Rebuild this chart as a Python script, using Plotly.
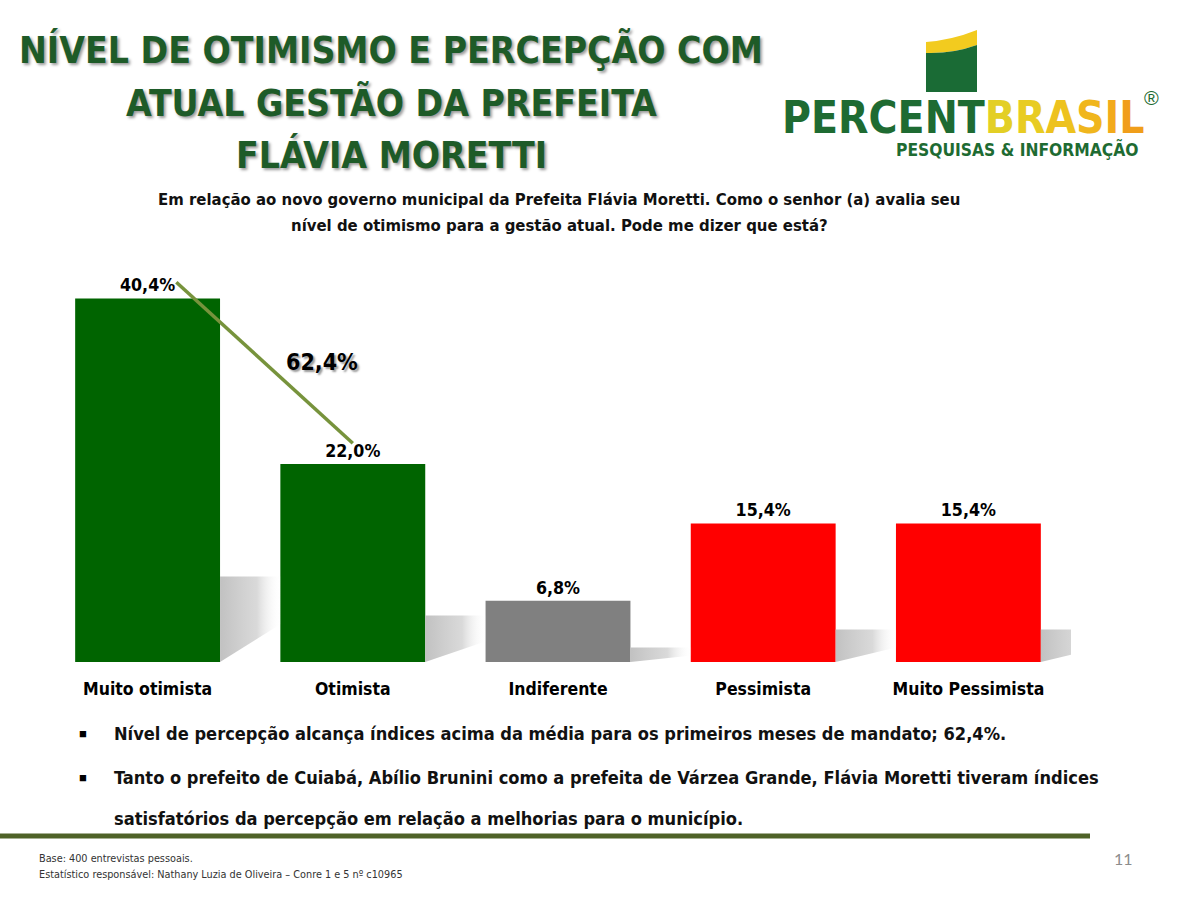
import plotly.graph_objects as go

# ---------------- data ----------------
categories = ["Muito otimista", "Otimista", "Indiferente", "Pessimista", "Muito Pessimista"]
values = [40.4, 22.0, 6.8, 15.4, 15.4]
bar_colors = ["#006400", "#006400", "#808080", "#FF0000", "#FF0000"]
positive_idx = [0, 1]

title_lines = ["NÍVEL DE OTIMISMO E PERCEPÇÃO COM", "ATUAL GESTÃO DA PREFEITA", "FLÁVIA MORETTI"]
question_lines = [
    "Em relação ao novo governo municipal da Prefeita Flávia Moretti. Como o senhor (a) avalia seu",
    "nível de otimismo para a gestão atual. Pode me dizer que está?",
]
bullet_lines = [
    "Nível de percepção alcança índices acima da média para os primeiros meses de mandato; 62,4%.",
    "Tanto o prefeito de Cuiabá, Abílio Brunini como a prefeita de Várzea Grande, Flávia Moretti tiveram índices",
    "satisfatórios da percepção em relação a melhorias para o município.",
]
footer_lines = [
    "Base: 400 entrevistas pessoais.",
    "Estatístico responsável: Nathany Luzia de Oliveira – Conre 1 e 5 nº c10965",
]
page_number = "11"

NARROW = "DejaVu Sans Condensed, Liberation Sans, sans-serif"
SANS = "Liberation Sans, Arial, sans-serif"
TITLE_GREEN = "#1E5B28"
LOGO_GREEN = "#1E6B32"

# ---------------- geometry helpers (pixel -> paper) ----------------
W, H = 1200, 900
ML, MR, MT, MB = 45, 129, 257, 238
PW, PH = W - ML - MR, H - MT - MB


def fx(px):
    return (px - ML) / PW


def fy(py):
    return (H - MB - py) / PH


def fmt(v):
    return f"{v:.1f}%".replace(".", ",")


xs = list(range(len(categories)))
BAR_W = 0.706

fig = go.Figure()

# shadows (drawn first, under the bars)
for i, v in zip(xs, values):
    xr = i + BAR_W / 2
    s = 0.235 * v
    dx = 0.30
    fig.add_trace(go.Scatter(
        x=[xr, xr, xr + dx, xr + dx, xr],
        y=[0, s, s, 0.45 * s, 0],
        mode="lines", line=dict(width=0), fill="toself",
        fillgradient=dict(type="horizontal",
                          colorscale=[[0, "rgba(190,190,190,0.95)"],
                                      [0.6, "rgba(208,208,208,0.8)"],
                                      [1, "rgba(255,255,255,0)"]]),
        hoverinfo="skip", showlegend=False,
    ))

fig.add_trace(go.Bar(
    x=xs, y=values, width=BAR_W,
    marker=dict(color=bar_colors, line=dict(width=0)),
    text=[fmt(v) for v in values], textposition="outside",
    textfont=dict(family=NARROW, size=17.7, color="black", weight="bold"),
    cliponaxis=False, showlegend=False,
))

# sum line for positive categories
total_pos = sum(values[i] for i in positive_idx)
fig.add_shape(type="line", xref="x", yref="y",
              x0=positive_idx[0] + 0.14, y0=values[positive_idx[0]] + 1.8,
              x1=positive_idx[1] + 0.0, y1=values[positive_idx[1]] + 2.3,
              line=dict(color="#77933C", width=3.5))
fig.add_annotation(xref="x", yref="y", x=0.85, y=(values[0] + values[1]) / 2 + 2.1,
                   text=fmt(total_pos), showarrow=False,
                   font=dict(family=NARROW, size=23, color="black", weight="bold",
                             shadow="2px 2px 2px #999"))

annotations = []
# title
for line, py in zip(title_lines, [50, 103, 155]):
    annotations.append(dict(xref="paper", yref="paper", x=fx(391), y=fy(py),
                            xanchor="center", yanchor="middle", text=line, showarrow=False,
                            font=dict(family=NARROW, size=37, color=TITLE_GREEN, weight="bold",
                                      shadow="2px 2px 3px #9a9a9a")))
# question
for line, py in zip(question_lines, [200, 225]):
    annotations.append(dict(xref="paper", yref="paper", x=fx(559), y=fy(py),
                            xanchor="center", yanchor="middle", text=line, showarrow=False,
                            font=dict(family=NARROW, size=16.6, color="#111111", weight="bold")))
# bullets
for line, py, bullet in zip(bullet_lines, [733, 777, 818], [True, True, False]):
    annotations.append(dict(xref="paper", yref="paper", x=fx(112), y=fy(py),
                            xanchor="left", yanchor="middle", text=line, showarrow=False,
                            font=dict(family=NARROW, size=18.1, color="#111111", weight="bold")))
    if bullet:
        annotations.append(dict(xref="paper", yref="paper", x=fx(83), y=fy(py),
                                xanchor="center", yanchor="middle", text="■", showarrow=False,
                                font=dict(family=SANS, size=13, color="black")))
# footer
for line, py in zip(footer_lines, [858, 874]):
    annotations.append(dict(xref="paper", yref="paper", x=fx(37), y=fy(py),
                            xanchor="left", yanchor="middle", text=line, showarrow=False,
                            font=dict(family=NARROW, size=10.8, color="#333333")))
annotations.append(dict(xref="paper", yref="paper", x=fx(1123), y=fy(858),
                        xanchor="center", yanchor="middle", text=page_number, showarrow=False,
                        font=dict(family="Lato, sans-serif", size=16, color="#8C8C8C")))

# logo texts
brasil_cols = ["#E3CF25", "#E8CC22", "#EDC21E", "#F0B61D", "#F2AA1C", "#F09E1A"]
brasil = "".join(f'<span style="color:{c}">{ch}</span>' for ch, c in zip("BRASIL", brasil_cols))
annotations.append(dict(xref="paper", yref="paper", x=fx(780), y=fy(117),
                        xanchor="left", yanchor="middle",
                        text=f'<span style="color:{LOGO_GREEN}">PERCENT</span>' + brasil,
                        showarrow=False,
                        font=dict(family=NARROW, size=44, color=LOGO_GREEN, weight="bold")))
annotations.append(dict(xref="paper", yref="paper", x=fx(1151), y=fy(98),
                        xanchor="center", yanchor="middle", text="®", showarrow=False,
                        font=dict(family=SANS, size=20, color=LOGO_GREEN)))
annotations.append(dict(xref="paper", yref="paper", x=fx(1140), y=fy(149),
                        xanchor="right", yanchor="middle", text="PESQUISAS &amp; INFORMAÇÃO",
                        showarrow=False,
                        font=dict(family=NARROW, size=17.3, color=LOGO_GREEN, weight="bold")))

for a in annotations:
    fig.add_annotation(**a)

# logo flag shapes
def P(px, py):
    return f"{fx(px):.5f},{fy(py):.5f}"

yellow_path = (f"M {P(926,42)} Q {P(952,40)} {P(977,30)} L {P(977,45)} "
               f"Q {P(952,54)} {P(926,53)} Z")
green_path = (f"M {P(926,53)} Q {P(952,54)} {P(977,45)} L {P(977,92)} L {P(926,92)} Z")
fig.add_shape(type="path", xref="paper", yref="paper", path=yellow_path,
              fillcolor="#F2CB1F", line=dict(width=0))
fig.add_shape(type="path", xref="paper", yref="paper", path=green_path,
              fillcolor="#1A6B35", line=dict(width=0))

# separator rule
fig.add_shape(type="line", xref="paper", yref="paper",
              x0=fx(0), x1=fx(1090), y0=fy(836), y1=fy(836),
              line=dict(color="#4F6228", width=5))

fig.update_layout(
    width=W, height=H,
    margin=dict(l=ML, r=MR, t=MT, b=MB),
    paper_bgcolor="white", plot_bgcolor="white",
    showlegend=False,
    bargap=0.29,
    xaxis=dict(tickvals=xs, ticktext=categories, range=[-0.5, len(categories) - 0.5],
               showgrid=False, zeroline=False, showline=False, ticks="",
               ticklabelstandoff=14,
               tickfont=dict(family=NARROW, size=17.5, color="black", weight="bold")),
    yaxis=dict(range=[0, 45], visible=False, showgrid=False, zeroline=False),
)

fig.write_html("out.html")
